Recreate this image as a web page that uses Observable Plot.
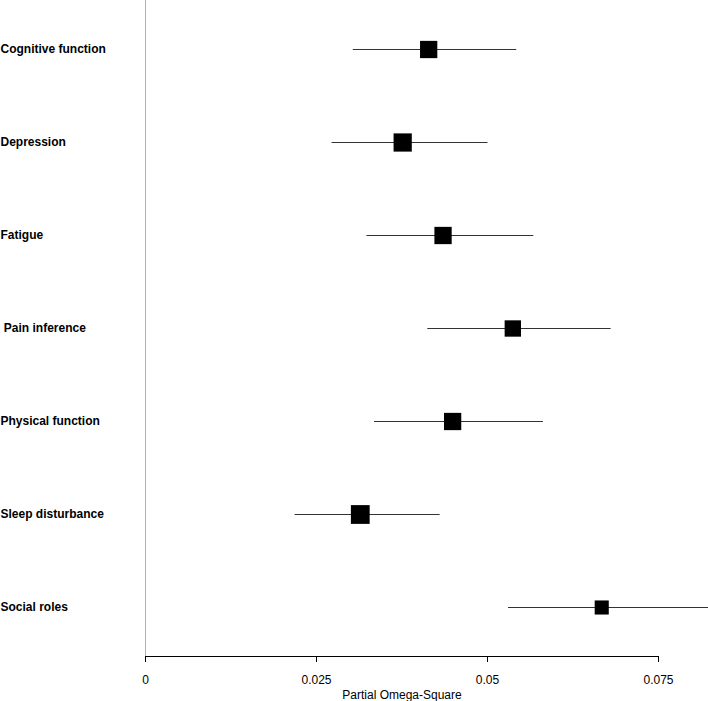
<!DOCTYPE html>
<html>
<head>
<meta charset="utf-8">
<script src="https://cdn.jsdelivr.net/npm/d3@7"></script>
<script src="https://cdn.jsdelivr.net/npm/@observablehq/plot@0.6"></script>
<style>
  html, body { margin: 0; padding: 0; background: #fff; }
  svg { white-space: pre; }
</style>
</head>
<body>
<div id="chart"></div>
<script>
const categories = ["Cognitive function", "Depression", "Fatigue", " Pain inference", "Physical function", "Sleep disturbance", "Social roles"];
const estimate = [0.0414, 0.0376, 0.0435, 0.0537, 0.0449, 0.0314, 0.0667];
const lower    = [0.0303, 0.0272, 0.0323, 0.0412, 0.0334, 0.0218, 0.0530];
const upper    = [0.0542, 0.0500, 0.0567, 0.0680, 0.0581, 0.0430, 0.0823];
const weight   = [0.92, 0.97, 0.92, 0.87, 0.92, 1.0, 0.75];
const xTicks = [0, 0.025, 0.05, 0.075];
const xTickLabels = ["0", "0.025", "0.05", "0.075"];

const rows = categories.map((c, i) => ({cat: c, est: estimate[i], lo: lower[i], hi: upper[i], w: weight[i]}));

const font = "'Liberation Sans', Arial, Helvetica, sans-serif";

const chart = Plot.plot({
  width: 708,
  height: 701,
  marginLeft: 145,
  marginRight: 50,
  marginTop: 0,
  marginBottom: 45,
  style: {fontFamily: font, fontSize: "12px", color: "#000", background: "#fff"},
  x: {domain: [0, 0.075], axis: null},
  y: {type: "point", domain: categories, range: [46.5, 609.5], padding: 0, axis: null},
  r: {type: "linear", domain: [0, 1], range: [0, 10.6]},
  marks: [
    Plot.ruleX([0], {stroke: "#b0b0b0", strokeWidth: 1}),
    Plot.frame({anchor: "bottom", stroke: "#000", strokeWidth: 1}),
    Plot.axisX({
      ticks: xTicks,
      tickFormat: (d) => xTickLabels[xTicks.indexOf(d)],
      tickSize: 6,
      tickPadding: 13,
      stroke: "#000",
      fontSize: 12,
      label: "Partial Omega-Square",
      labelAnchor: "center",
      labelArrow: "none",
      labelOffset: 42.5
    }),
    Plot.link(rows, {x1: "lo", x2: "hi", y1: "cat", y2: "cat", stroke: "#333", strokeWidth: 1}),
    Plot.dot(rows, {x: "est", y: "cat", r: "w", symbol: "square", fill: "#000", stroke: "none"}),
    Plot.text(rows, {y: "cat", text: "cat", frameAnchor: "left", textAnchor: "start", dx: -145, fontWeight: "bold", fontSize: 12, fill: "#000"})
  ]
});
document.getElementById("chart").appendChild(chart);
</script>
</body>
</html>
